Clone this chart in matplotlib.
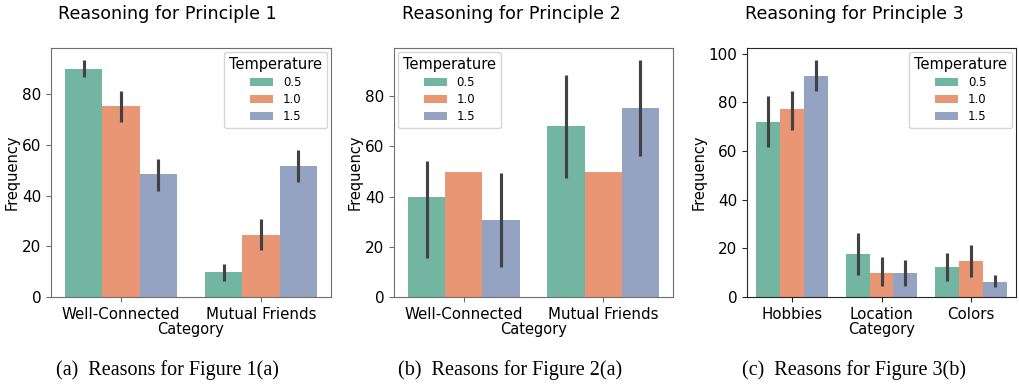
import matplotlib
matplotlib.use("Agg")
import matplotlib.pyplot as plt
import seaborn as sns
import numpy as np

# ---------------- data ----------------
temperatures = ["0.5", "1.0", "1.5"]

cats1 = ["Well-Connected", "Mutual Friends"]
mean1 = {"0.5": [90.0, 9.8], "1.0": [75.3, 24.6], "1.5": [48.5, 51.6]}
lo1 = {"0.5": [86.7, 6.4], "1.0": [69.1, 18.4], "1.5": [42.0, 45.5]}
hi1 = {"0.5": [93.6, 13.2], "1.0": [81.4, 30.7], "1.5": [54.4, 57.9]}

cats2 = ["Well-Connected", "Mutual Friends"]
mean2 = {"0.5": [40.0, 68.0], "1.0": [50.0, 50.0], "1.5": [30.8, 75.2]}
lo2 = {"0.5": [15.7, 47.6], "1.0": [50.0, 50.0], "1.5": [12.0, 56.0]}
hi2 = {"0.5": [54.1, 88.6], "1.0": [50.0, 50.0], "1.5": [49.6, 94.5]}

cats3 = ["Hobbies", "Location", "Colors"]
mean3 = {"0.5": [72.0, 17.8, 12.3], "1.0": [77.1, 9.8, 14.8], "1.5": [91.0, 9.8, 6.0]}
lo3 = {"0.5": [61.7, 9.0, 6.7], "1.0": [68.5, 4.5, 8.3], "1.5": [84.7, 4.5, 4.2]}
hi3 = {"0.5": [82.5, 26.4, 17.9], "1.0": [84.5, 16.5, 21.3], "1.5": [97.5, 15.2, 8.9]}

titles = ["Reasoning for Principle 1", "Reasoning for Principle 2", "Reasoning for Principle 3"]
captions = ["(a)  Reasons for Figure 1(a)", "(b)  Reasons for Figure 2(a)", "(c)  Reasons for Figure 3(b)"]
legend_locs = ["upper right", "upper left", "upper right"]

# ---------------- style ----------------
plt.rcParams["font.family"] = ["DejaVu Sans"]
base = sns.color_palette("Set2", 3)
colors = [sns.desaturate(c, 0.75) for c in base]

W, H = 1019, 385
fig = plt.figure(figsize=(W / 100, H / 100), dpi=100)

axes_px = [(51, 331), (394, 673), (747, 1016)]
spine_cols = ["#6e6e6e", "#6e6e6e", "#262626"]
top_px, bot_px = 48, 297
title_x = [167.5, 511, 854]
caption_x = [167.5, 510.5, 853.5]

datasets = [(cats1, mean1, lo1, hi1), (cats2, mean2, lo2, hi2), (cats3, mean3, lo3, hi3)]

for i, ((cats, mean, lo, hi), (l, r)) in enumerate(zip(datasets, axes_px)):
    ax = fig.add_axes([l / W, 1 - bot_px / H, (r - l) / W, (bot_px - top_px) / H])
    n = len(temperatures)
    width = 0.8 / n
    x = np.arange(len(cats))
    ymax = 0
    for j, t in enumerate(temperatures):
        pos = x - 0.4 + width * (j + 0.5)
        m = np.array(mean[t])
        ax.bar(pos, m, width=width, color=colors[j], label=t, edgecolor="none", zorder=2)
        low = np.array(lo[t]); high = np.array(hi[t])
        for p, a, b in zip(pos, low, high):
            if b > a:
                ax.plot([p, p], [a, b], color=".26", lw=2.25, solid_capstyle="butt", zorder=3)
        ymax = max(ymax, high.max(), m.max())
    ax.set_xlim(-0.5, len(cats) - 0.5)
    ax.set_ylim(0, ymax * 1.05)
    ax.set_xticks(x)
    ax.set_xticklabels(cats, fontsize=10.8)
    ax.tick_params(axis="y", labelsize=11)
    ax.tick_params(color=spine_cols[i])
    ax.set_ylabel("Frequency", fontsize=10.5, labelpad=1.5)
    ax.set_xlabel("Category", fontsize=10.5, labelpad=0)
    for s in ax.spines.values():
        s.set_color(spine_cols[i])
    leg = ax.legend(title="Temperature", loc=legend_locs[i], fontsize=8.5,
                    title_fontsize=10.5, handlelength=2.0, labelspacing=0.35,
                    borderaxespad=0.35)
    fig.text(title_x[i] / W, 1 - 14 / H, titles[i], ha="center", va="center", fontsize=12.6)
    fig.text(caption_x[i] / W, 1 - 370 / H, captions[i], ha="center", va="center",
             fontsize=14.5, family=["Liberation Serif", "DejaVu Serif"])

fig.savefig("out.png", dpi=100)
